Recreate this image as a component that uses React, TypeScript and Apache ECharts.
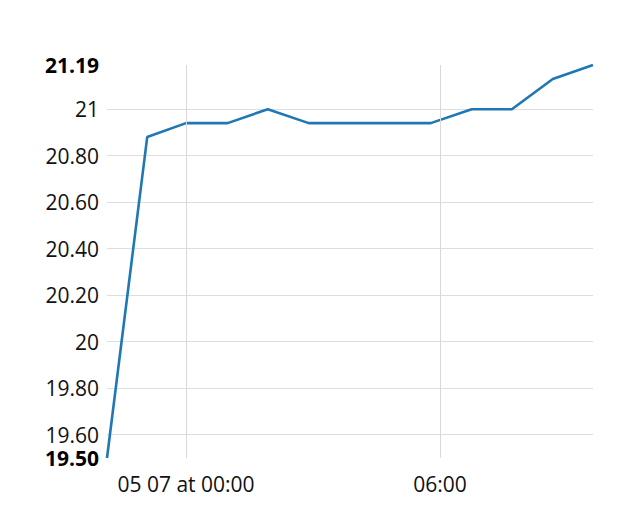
import React, { useEffect, useRef } from "react";
import * as echarts from "echarts";

const times = [
  "2024-05-06T22:08:00",
  "2024-05-06T23:05:00",
  "2024-05-07T00:00:00",
  "2024-05-07T00:59:00",
  "2024-05-07T01:56:00",
  "2024-05-07T02:54:00",
  "2024-05-07T03:52:00",
  "2024-05-07T04:49:00",
  "2024-05-07T05:47:00",
  "2024-05-07T06:45:00",
  "2024-05-07T07:42:00",
  "2024-05-07T08:40:00",
  "2024-05-07T09:37:00",
];
const values = [19.5, 20.88, 20.94, 20.94, 21.0, 20.94, 20.94, 20.94, 20.94, 21.0, 21.0, 21.13, 21.19];
const xTickTimes = ["2024-05-07T00:00:00", "2024-05-07T06:00:00"];
const xTickLabels = ["05 07 at 00:00", "06:00"];
const yMin = 19.5;
const yMax = 21.19;

const FONT = "'Open Sans', 'Noto Sans', sans-serif";

export default function App() {
  const ref = useRef<HTMLDivElement>(null);
  useEffect(() => {
    if (!ref.current) return;
    const chart = echarts.init(ref.current, null, { renderer: "svg" });
    const t = times.map((s) => new Date(s).getTime());
    const data = t.map((x, i) => [x, values[i]]);
    const fmt = (v: number) =>
      Math.abs(v - Math.round(v)) < 1e-9 ? String(Math.round(v)) : v.toFixed(2);
    chart.setOption({
      animation: false,
      backgroundColor: "#ffffff",
      grid: { left: 107, right: 47, top: 65, bottom: 62, containLabel: false },
      xAxis: {
        type: "time",
        min: t[0],
        max: t[t.length - 1],
        axisLine: { show: false },
        axisTick: { show: false },
        axisLabel: { show: false },
        splitLine: { show: false },
      },
      yAxis: {
        type: "value",
        min: yMin,
        max: yMax,
        splitNumber: 8,
        axisLine: { show: false },
        axisTick: { show: false },
        axisLabel: {
          show: true,
          showMinLabel: true,
          showMaxLabel: true,
          margin: 8,
          fontFamily: FONT,
          fontSize: 21,
          lineHeight: 19,
          color: "#111111",
          formatter: (v: number) => {
            const s = fmt(v);
            if (Math.abs(v - yMin) < 1e-9 || Math.abs(v - yMax) < 1e-9) return `{b|${v.toFixed(2)}}`;
            return s;
          },
          rich: {
            b: { fontFamily: FONT, fontSize: 21, lineHeight: 19, fontWeight: "bold", color: "#000000" },
          },
        },
        splitLine: {
          show: true,
          showMinLine: false,
          showMaxLine: false,
          lineStyle: { color: "#dedede", width: 1 },
        },
      },
      series: [
        {
          type: "line",
          data: [],
          z: 1,
          silent: true,
          markLine: {
            silent: true,
            symbol: ["none", "none"],
            lineStyle: { color: "#d9d9d9", width: 1, type: "solid" },
            label: {
              show: true,
              position: "start",
              distance: 15,
              fontFamily: FONT,
              fontSize: 21,
              color: "#111111",
              formatter: (p: any) => xTickLabels[p.dataIndex],
            },
            emphasis: { disabled: true },
            data: xTickTimes.map((s) => ({ xAxis: new Date(s).getTime() })),
          },
        },
        {
          type: "line",
          data,
          z: 3,
          showSymbol: false,
          symbol: "none",
          lineStyle: { color: "#1f77b4", width: 2.6 },
          itemStyle: { color: "#1f77b4" },
        },
      ],
    });
    return () => chart.dispose();
  }, []);
  return (
    <div
      ref={ref}
      style={{ position: "absolute", left: 0, top: 0, width: 640, height: 520 }}
    />
  );
}
